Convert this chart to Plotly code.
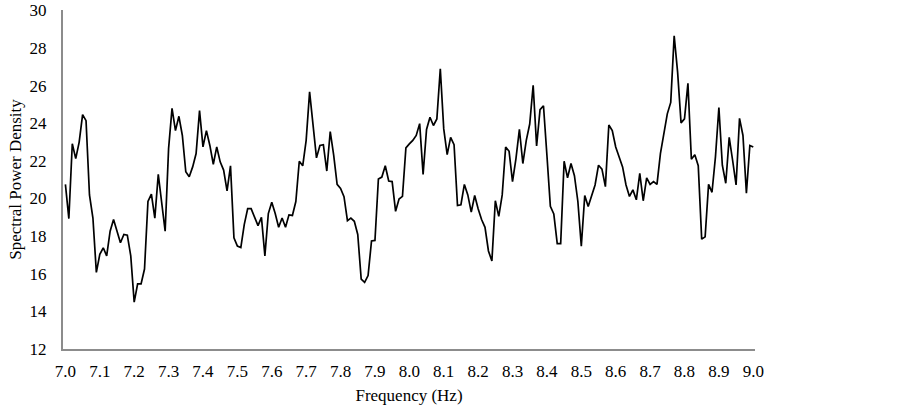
import numpy as np
import plotly.graph_objects as go

# frequency samples, 7.00 .. 9.00 Hz in 0.01 Hz steps
freq = np.round(np.linspace(7.0, 9.0, 201), 2)

# spectral power density
psd = [
    20.75, 18.93, 22.91, 22.12, 23.00, 24.46, 24.14, 20.19, 18.96, 16.07,
    17.03, 17.38, 16.95, 18.26, 18.88, 18.26, 17.65, 18.09, 18.05, 16.95,
    14.49, 15.46, 15.46, 16.25, 19.84, 20.23, 18.96, 21.28, 19.84, 18.26,
    22.65, 24.79, 23.61, 24.37, 23.35, 21.42, 21.16, 21.68, 22.39, 24.67,
    22.74, 23.61, 22.82, 21.82, 22.74, 21.95, 21.51, 20.40, 21.74, 17.91,
    17.47, 17.39, 18.61, 19.46, 19.46, 18.97, 18.56, 19.00, 16.95, 19.20,
    19.80, 19.20, 18.47, 18.96, 18.47, 19.13, 19.10, 19.84, 21.98, 21.74,
    23.09, 25.67, 23.70, 22.16, 22.82, 22.86, 21.46, 23.56, 22.30, 20.75,
    20.54, 20.10, 18.82, 18.96, 18.79, 18.09, 15.72, 15.54, 15.90, 17.74,
    17.77, 21.04, 21.14, 21.74, 20.93, 20.90, 19.32, 19.97, 20.11, 22.69,
    22.90, 23.09, 23.35, 23.98, 21.28, 23.67, 24.32, 23.88, 24.23, 26.90,
    23.70, 22.33, 23.25, 22.86, 19.63, 19.67, 20.75, 20.19, 19.28, 20.16,
    19.46, 18.88, 18.47, 17.21, 16.68, 19.88, 19.05, 20.19, 22.74, 22.51,
    20.90, 22.12, 23.67, 21.86, 23.09, 23.96, 26.02, 22.79, 24.72, 24.93,
    22.30, 19.58, 19.18, 17.60, 17.60, 21.98, 21.10, 21.86, 21.21, 19.84,
    17.47, 20.16, 19.58, 20.11, 20.72, 21.77, 21.56, 20.63, 23.91, 23.61,
    22.74, 22.21, 21.68, 20.72, 20.11, 20.46, 19.93, 21.33, 19.88, 21.10,
    20.75, 20.90, 20.75, 22.39, 23.53, 24.50, 25.11, 28.65, 26.72, 24.02,
    24.23, 26.12, 22.09, 22.33, 21.74, 17.84, 17.96, 20.75, 20.33, 22.21,
    24.84, 21.77, 20.81, 23.25, 22.02, 20.72, 24.26, 23.35, 20.28, 22.82,
    22.74,
]

font = dict(family="Liberation Serif, Times New Roman, serif", size=17, color="black")

fig = go.Figure()
fig.add_trace(go.Scatter(
    x=freq, y=psd, mode="lines",
    line=dict(color="black", width=1.7),
    showlegend=False,
))

fig.update_layout(
    width=903, height=405,
    margin=dict(l=63, r=148, t=10, b=56),
    paper_bgcolor="white", plot_bgcolor="white",
    font=font,
)

fig.update_xaxes(
    range=[6.993, 9.005], tick0=7.0, dtick=0.1, tickformat=".1f",
    showgrid=False, zeroline=False, automargin=False,
    showline=True, linecolor="#8c8c8c", linewidth=2,
    ticks="", ticklabelstandoff=6, ticklabeloverflow="allow",
    title=dict(text="Frequency (Hz)", font=font, standoff=12),
)
fig.update_yaxes(
    range=[12, 30.02], tick0=12, dtick=2,
    showgrid=False, zeroline=False, automargin=False,
    showline=True, linecolor="#8c8c8c", linewidth=2,
    ticks="", ticklabelstandoff=11, ticklabeloverflow="allow",
    title=dict(text="Spectral Power Density", font=font, standoff=4),
)

# drop the default 8px page margin so the figure sits at the window origin
fig.write_html("out.html", config={"displayModeBar": False},
               post_script="document.body.style.margin='0';")
